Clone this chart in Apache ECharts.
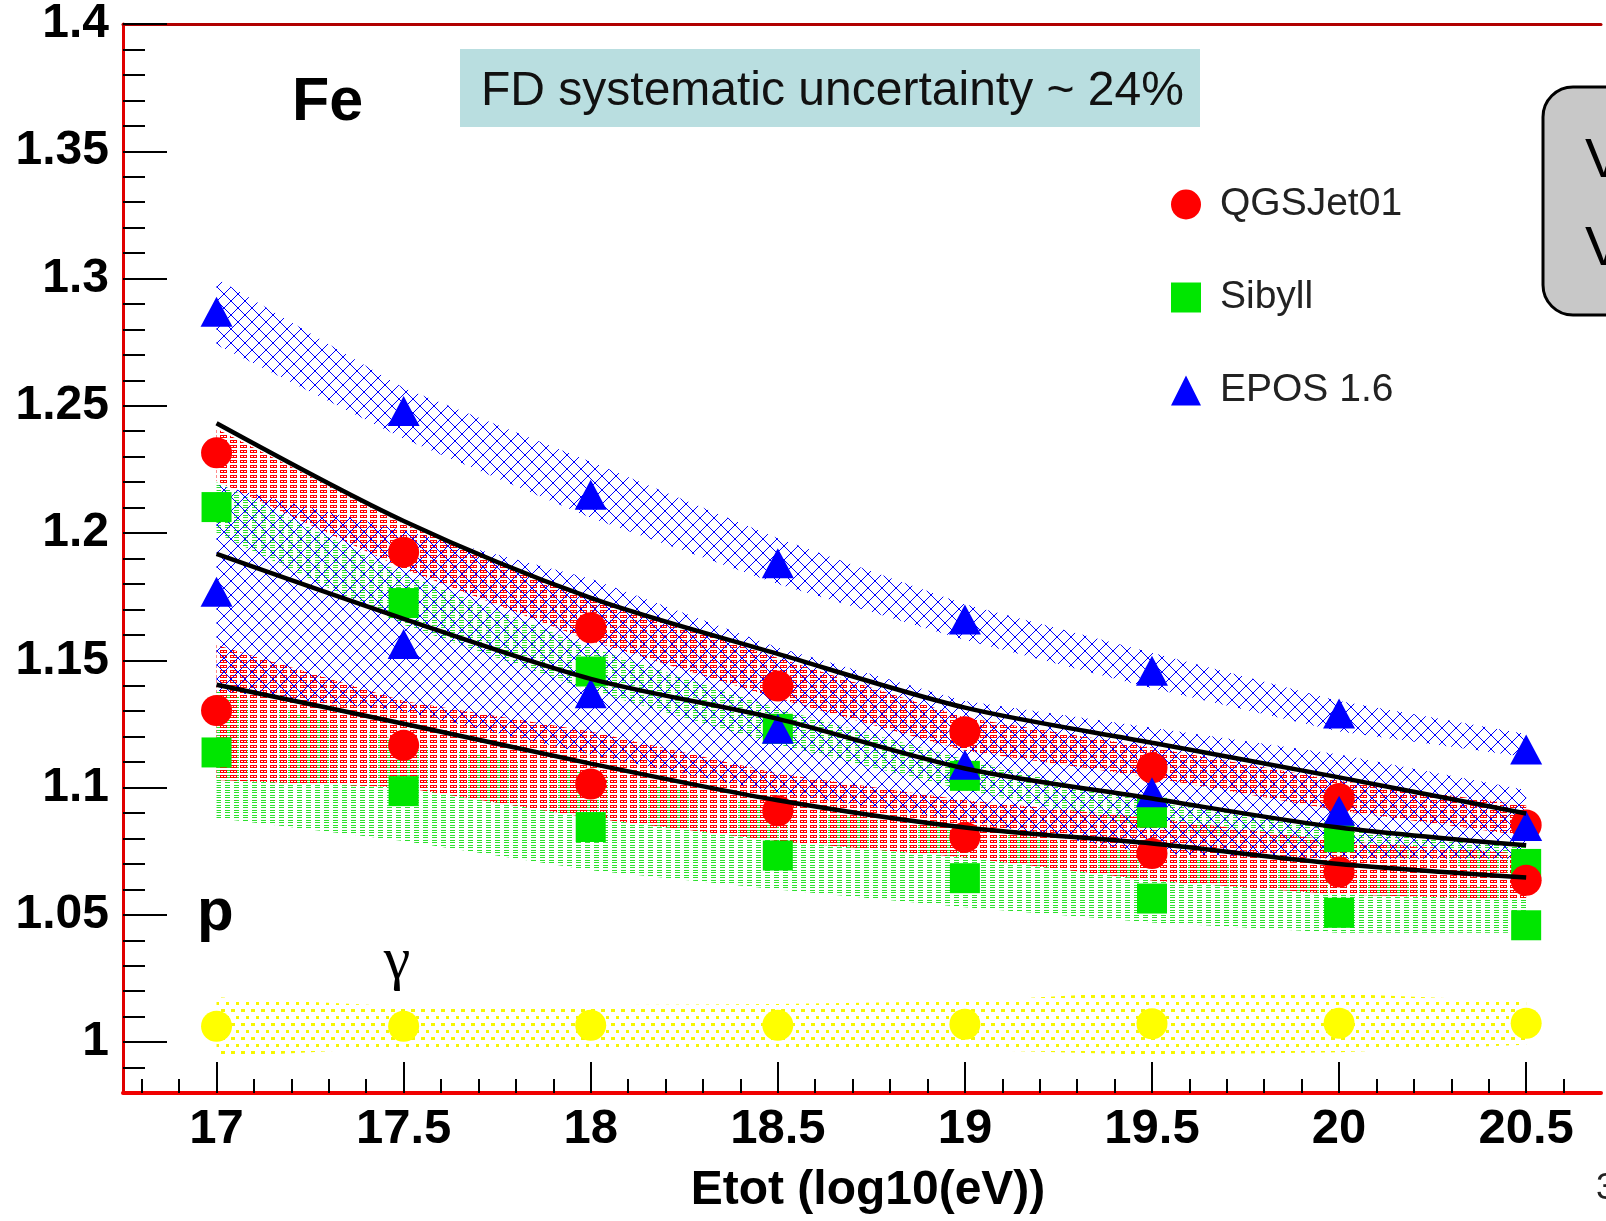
<!DOCTYPE html>
<html>
<head>
    <meta charset="utf-8" />
    <title>Xmax ratio vs energy</title>
    <style>
        html, body { margin: 0; padding: 0; background: #fff; }
        #main { width: 1606px; height: 1221px; }
    </style>
</head>
<body>
    <div id="main"></div>
    <script src="https://cdn.jsdelivr.net/npm/echarts@6/dist/echarts.min.js"></script>
    <script type="text/javascript">
        var xs = [17, 17.5, 18, 18.5, 19, 19.5, 20, 20.5];

        // markers, Fe (upper) and p (lower) for each model
        var qgsFe = [1.2315, 1.1925, 1.1628, 1.1399, 1.1219, 1.1078, 1.0957, 1.0853];
        var qgsP = [1.1303, 1.1166, 1.1014, 1.0909, 1.0805, 1.0741, 1.0668, 1.0636];
        var sibFe = [1.2102, 1.1725, 1.1456, 1.1231, 1.1046, 1.0901, 1.0805, 1.0700];
        var sibP = [1.1138, 1.0986, 1.0845, 1.0733, 1.0644, 1.0564, 1.0508, 1.0459];
        var eposFe = [1.2869, 1.2480, 1.2150, 1.1881, 1.1660, 1.1459, 1.1291, 1.1150];
        var eposP = [1.1769, 1.1564, 1.1371, 1.1231, 1.1090, 1.0982, 1.0909, 1.0849];
        var gammaVals = [1.0062, 1.0062, 1.0066, 1.0066, 1.0070, 1.0072, 1.0074, 1.0074];

        // systematic bands (upper / lower edges)
        var eposFeHi = [1.300, 1.257, 1.228, 1.198, 1.172, 1.153, 1.134, 1.121];
        var eposFeLo = [1.274, 1.237, 1.206, 1.180, 1.158, 1.139, 1.122, 1.112];
        var eposPHi = [1.219, 1.201, 1.182, 1.155, 1.134, 1.1235, 1.113, 1.099];
        var eposPLo = [1.138, 1.130, 1.113, 1.098, 1.087, 1.074, 1.072, 1.072];
        var qgsFeHi = [1.241, 1.2035, 1.1745, 1.151, 1.1275, 1.1157, 1.1027, 1.093];
        var qgsFeLo = [1.2204, 1.186, 1.1576, 1.135, 1.1145, 1.104, 1.091, 1.081];
        var qgsPHi = [1.156, 1.134, 1.122, 1.1055, 1.095, 1.088, 1.079, 1.074];
        var qgsPLo = [1.103, 1.100, 1.088, 1.079, 1.0725, 1.0635, 1.058, 1.056];
        var sibFeHi = [1.220, 1.184, 1.155, 1.131, 1.111, 1.094, 1.085, 1.077];
        var sibFeLo = [1.200, 1.164, 1.138, 1.117, 1.099, 1.084, 1.076, 1.065];
        var sibPHi = [1.138, 1.118, 1.1055, 1.092, 1.084, 1.074, 1.065, 1.060];
        var sibPLo = [1.088, 1.079, 1.0675, 1.060, 1.053, 1.047, 1.043, 1.043];
        var gammaHi = [1.0176, 1.014, 1.0145, 1.015, 1.016, 1.020, 1.019, 1.016];
        var gammaLo = [0.994, 0.998, 0.998, 0.998, 0.997, 0.995, 0.996, 0.999];

        // black curves
        var curveTop = [1.2431, 1.2047, 1.1745, 1.1525, 1.1314, 1.1176, 1.1040, 1.0898];
        var curveMid = [1.1918, 1.1663, 1.1427, 1.1270, 1.1075, 1.0957, 1.0843, 1.0773];
        var curveLow = [1.1404, 1.1251, 1.1094, 1.0950, 1.0843, 1.0780, 1.0700, 1.0647];

        // axis ticks
        var xMajor = [17, 17.5, 18, 18.5, 19, 19.5, 20, 20.5];
        var yMajor = [1, 1.05, 1.1, 1.15, 1.2, 1.25, 1.3, 1.35, 1.4];
        var xMinor = [];
        for (var i = 168; i <= 206; i++) {
            if (i % 5 !== 0) xMinor.push(i / 10);
        }
        var yMinor = [];
        for (var j = 99; j <= 139; j++) {
            if (j % 5 !== 0) yMinor.push(j / 100);
        }

        var FONT = '"Liberation Sans", Arial, Helvetica, sans-serif';

        // hatch patterns like the ROOT fill styles (drawn pixel by pixel so they stay crisp)
        function makePattern(kind) {
            var c = document.createElement('canvas');
            var ctx, k;
            if (kind === 'blue') {
                var n = 14;
                c.width = n; c.height = n;
                ctx = c.getContext('2d');
                ctx.fillStyle = '#0000ff';
                for (k = 0; k < n; k++) {
                    ctx.fillRect(k, k, 1, 1);
                    ctx.fillRect(n - 1 - k, k, 1, 1);
                }
            } else if (kind === 'red') {
                c.width = 10; c.height = 5;
                ctx = c.getContext('2d');
                ctx.fillStyle = '#ff0000';
                ctx.fillRect(0, 0, 7, 1);
                ctx.fillRect(0, 2, 7, 1);
                ctx.fillRect(0, 1, 1, 1);
                ctx.fillRect(3, 1, 1, 1);
                ctx.fillRect(6, 1, 1, 1);
            } else if (kind === 'green') {
                c.width = 9; c.height = 5;
                ctx = c.getContext('2d');
                ctx.fillStyle = '#2ee02e';
                ctx.fillRect(0, 0, 5, 1);
                ctx.fillRect(0, 2, 5, 1);
            } else {
                c.width = 10; c.height = 14;
                ctx = c.getContext('2d');
                ctx.fillStyle = '#f6f600';
                ctx.fillRect(1, 1, 4, 3);
                ctx.fillRect(6, 8, 3, 3);
            }
            return { image: c, repeat: 'repeat' };
        }

        var patterns = {
            blue: makePattern('blue'),
            red: makePattern('red'),
            green: makePattern('green'),
            yellow: makePattern('yellow')
        };

        function pts(vals) {
            return xs.map(function (x, k) { return [x, vals[k]]; });
        }

        // band drawn as one polygon through the axis scales
        function band(lo, hi, kind) {
            return {
                type: 'custom',
                silent: true,
                data: xs.map(function (x, k) { return [x, lo[k], hi[k]]; }),
                encode: { x: 0, y: [1, 2] },
                renderItem: function (params, api) {
                    if (params.dataIndex !== 0) return null;
                    var top = [], bot = [];
                    for (var k = 0; k < xs.length; k++) {
                        top.push(api.coord([xs[k], hi[k]]));
                        bot.unshift(api.coord([xs[k], lo[k]]));
                    }
                    return {
                        type: 'polygon',
                        shape: { points: top.concat(bot) },
                        style: { fill: patterns[kind] }
                    };
                }
            };
        }

        function markers(name, vals, symbol, size, color) {
            return {
                name: name,
                type: 'scatter',
                data: pts(vals),
                symbol: symbol,
                symbolSize: size,
                itemStyle: { color: color, opacity: 1 }
            };
        }

        function curve(vals) {
            return {
                name: 'fit',
                type: 'line',
                data: pts(vals),
                smooth: 0.3,
                showSymbol: false,
                lineStyle: { color: '#000', width: 4.5 }
            };
        }

        var series = [
            band(sibFeLo, sibFeHi, 'green'),
            band(sibPLo, sibPHi, 'green'),
            band(qgsFeLo, qgsFeHi, 'red'),
            band(qgsPLo, qgsPHi, 'red'),
            markers('Sibyll', sibFe, 'rect', 30, '#00e600'),
            markers('Sibyll', sibP, 'rect', 30, '#00e600'),
            markers('QGSJet01', qgsFe, 'circle', 31, '#ff0000'),
            markers('QGSJet01', qgsP, 'circle', 31, '#ff0000'),
            band(eposFeLo, eposFeHi, 'blue'),
            band(eposPLo, eposPHi, 'blue'),
            markers('EPOS 1.6', eposFe, 'triangle', [32, 30], '#0000ff'),
            markers('EPOS 1.6', eposP, 'triangle', [32, 30], '#0000ff'),
            band(gammaLo, gammaHi, 'yellow'),
            markers('gamma', gammaVals, 'circle', 31, '#ffff00'),
            curve(curveTop),
            curve(curveMid),
            curve(curveLow)
        ];

        var myChart = echarts.init(document.getElementById('main'));

        var option = {
            animation: false,
            backgroundColor: '#fff',
            grid: { left: 123, top: 22, right: 5, bottom: 128, containLabel: false },
            legend: {
                orient: 'vertical',
                left: 1166,
                top: 180,
                itemWidth: 30,
                itemHeight: 30,
                itemGap: 54,
                selectedMode: false,
                textStyle: {
                    fontFamily: FONT,
                    fontSize: 39,
                    color: '#222',
                    padding: [0, 0, 0, 14]
                },
                data: [
                    { name: 'QGSJet01', icon: 'circle' },
                    { name: 'Sibyll', icon: 'rect' },
                    { name: 'EPOS 1.6', icon: 'triangle' }
                ]
            },
            xAxis: [
                {
                    type: 'value',
                    position: 'bottom',
                    min: 16.75,
                    max: 20.7,
                    splitLine: { show: false },
                    axisLine: { show: true, onZero: false, lineStyle: { color: '#f00000', width: 4 } },
                    axisTick: { show: true, inside: true, length: 31, customValues: xMajor, lineStyle: { color: '#000', width: 2 } },
                    axisLabel: {
                        customValues: xMajor,
                        margin: 12,
                        fontFamily: FONT,
                        fontSize: 49,
                        fontWeight: 'bold',
                        color: '#000',
                        formatter: function (v) { return String(+v.toFixed(2)); }
                    }
                },
                {
                    type: 'value',
                    position: 'bottom',
                    min: 16.75,
                    max: 20.7,
                    splitLine: { show: false },
                    axisLine: { show: false },
                    axisTick: { show: true, inside: true, length: 14, customValues: xMinor, lineStyle: { color: '#000', width: 2 } },
                    axisLabel: { show: false }
                },
                {
                    type: 'value',
                    position: 'top',
                    min: 16.75,
                    max: 20.7,
                    splitLine: { show: false },
                    axisLine: { show: true, onZero: false, lineStyle: { color: '#b00000', width: 3 } },
                    axisTick: { show: false },
                    axisLabel: { show: false }
                }
            ],
            yAxis: [
                {
                    type: 'value',
                    position: 'left',
                    min: 0.98,
                    max: 1.4,
                    splitLine: { show: false },
                    axisLine: { show: true, onZero: false, lineStyle: { color: '#e00000', width: 3 } },
                    axisTick: { show: true, inside: true, length: 44, customValues: yMajor, lineStyle: { color: '#000', width: 2 } },
                    axisLabel: {
                        customValues: yMajor,
                        margin: 14,
                        padding: [16, 0, 0, 0],
                        fontFamily: FONT,
                        fontSize: 48,
                        fontWeight: 'bold',
                        color: '#000',
                        formatter: function (v) { return String(+v.toFixed(3)); }
                    }
                },
                {
                    type: 'value',
                    position: 'left',
                    min: 0.98,
                    max: 1.4,
                    splitLine: { show: false },
                    axisLine: { show: false },
                    axisTick: { show: true, inside: true, length: 22, customValues: yMinor, lineStyle: { color: '#000', width: 2 } },
                    axisLabel: { show: false }
                }
            ],
            graphic: [
                {
                    type: 'rect',
                    shape: { x: 460, y: 49, width: 740, height: 78 },
                    style: { fill: '#b9dee0' },
                    z: 10
                },
                {
                    type: 'text',
                    x: 481, y: 92,
                    style: { text: 'FD systematic uncertainty ~ 24%', font: '48px ' + FONT, fill: '#111', textVerticalAlign: 'middle' },
                    z: 11
                },
                {
                    type: 'rect',
                    shape: { x: 1543, y: 87, width: 130, height: 228, r: 30 },
                    style: { fill: '#c8c8c8', stroke: '#000', lineWidth: 3 },
                    z: 10
                },
                {
                    type: 'text', x: 1585, y: 162,
                    style: { text: 'V', font: '56px ' + FONT, fill: '#000', textVerticalAlign: 'middle' },
                    z: 11
                },
                {
                    type: 'text', x: 1585, y: 250,
                    style: { text: 'V', font: '56px ' + FONT, fill: '#000', textVerticalAlign: 'middle' },
                    z: 11
                },
                {
                    type: 'text', x: 292, y: 103,
                    style: { text: 'Fe', font: 'bold 61px ' + FONT, fill: '#000', textVerticalAlign: 'middle' },
                    z: 11
                },
                {
                    type: 'text', x: 197, y: 913,
                    style: { text: 'p', font: 'bold 60px ' + FONT, fill: '#000', textVerticalAlign: 'middle' },
                    z: 11
                },
                {
                    type: 'text', x: 397, y: 962,
                    style: { text: 'γ', font: '60px "Liberation Serif", "Times New Roman", serif', fill: '#000', textAlign: 'center', textVerticalAlign: 'middle' },
                    z: 11
                },
                {
                    type: 'text', x: 868, y: 1191,
                    style: { text: 'Etot (log10(eV))', font: 'bold 48px ' + FONT, fill: '#000', textAlign: 'center', textVerticalAlign: 'middle' },
                    z: 11
                },
                {
                    type: 'text', x: 1596, y: 1189,
                    style: { text: '3', font: '36px ' + FONT, fill: '#222', textVerticalAlign: 'middle' },
                    z: 11
                }
            ],
            series: series
        };

        myChart.setOption(option);
    </script>
</body>
</html>
